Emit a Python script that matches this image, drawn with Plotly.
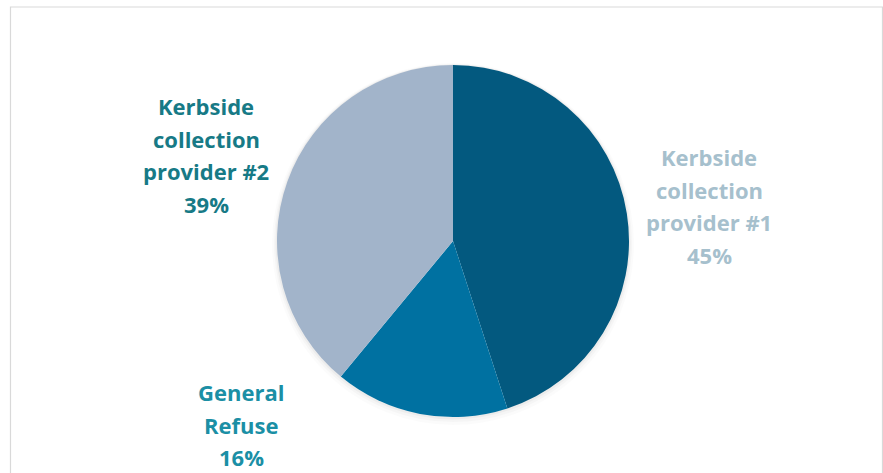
import plotly.graph_objects as go

labels = ["Kerbside collection provider #1", "General Refuse", "Kerbside collection provider #2"]
label_lines = [["Kerbside", "collection", "provider #1"], ["General", "Refuse"], ["Kerbside", "collection", "provider #2"]]
values = [45, 16, 39]
slice_colors = ["#03597F", "#0071A1", "#A2B4CA"]
text_colors = ["#A6C0CD", "#1B8FA5", "#177A86"]
# label anchor (paper coords: centre x, top y)
label_pos = [(709, 140), (241, 375), (206, 89)]

W, H = 883, 473
cx, cy, r = 453, 241, 176

fig = go.Figure()
fig.add_trace(go.Pie(
    labels=labels, values=values, sort=False, direction="clockwise", rotation=0,
    marker=dict(colors=slice_colors, line=dict(width=0)),
    textinfo="none", hoverinfo="label+percent", showlegend=False,
    domain=dict(x=[(cx - r) / W, (cx + r) / W], y=[1 - (cy + r) / H, 1 - (cy - r) / H]),
))

shapes = []
# soft shadow around pie
for w, a, dy in [(10, 0.015, 3), (6, 0.025, 2), (3, 0.035, 1)]:
    shapes.append(dict(type="circle", xref="paper", yref="paper", layer="below",
                       x0=(cx - r) / W, x1=(cx + r) / W,
                       y0=1 - (cy + r + dy) / H, y1=1 - (cy - r + dy) / H,
                       line=dict(color=f"rgba(0,0,0,{a})", width=w)))
# chart border
shapes.append(dict(type="rect", xref="paper", yref="paper",
                   x0=10.5 / W, x1=882.5 / W, y0=-0.05, y1=1 - 7 / H,
                   line=dict(color="#D9D9D9", width=1.2)))

annotations = []
total = sum(values)
line_h = 32.5
for i in range(len(values)):
    lx, ly = label_pos[i]
    lines = label_lines[i] + [f"{round(values[i] / total * 100)}%"]
    for j, t in enumerate(lines):
        annotations.append(dict(text=f"<b>{t}</b>", x=lx / W, y=1 - (ly + j * line_h) / H,
                                xref="paper", yref="paper", showarrow=False,
                                xanchor="center", yanchor="top",
                                font=dict(family="Open Sans", size=22, color=text_colors[i])))

fig.update_layout(width=W, height=H, margin=dict(l=0, r=0, t=0, b=0),
                  paper_bgcolor="white", plot_bgcolor="white",
                  shapes=shapes, annotations=annotations)
fig.write_html("out.html")
